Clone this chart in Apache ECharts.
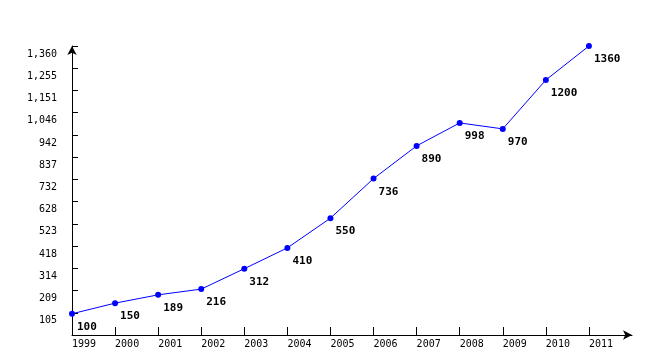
<!DOCTYPE html>
<html><head><meta charset="utf-8">
<script src="https://cdn.jsdelivr.net/npm/echarts@6/dist/echarts.min.js"></script>
<style>html,body{margin:0;padding:0;background:#fff}#c{width:662px;height:360px}</style>
</head><body><div id="c"></div>
<script>
const years = [1999,2000,2001,2002,2003,2004,2005,2006,2007,2008,2009,2010,2011];
const values = [100,150,189,216,312,410,550,736,890,998,970,1200,1360];
const yTickLabels = ['','105','209','314','418','523','628','732','837','942','1,046','1,151','1,255','1,360'];
const yMax = 1360, ySteps = 13;
const chart = echarts.init(document.getElementById('c'));
const font = 'DejaVu Sans Mono';
chart.setOption({
  animation:false,
  grid:{left:72,right:30,top:46,bottom:25,containLabel:false},
  xAxis:{type:'value',min:1999,max:2012,interval:1,
    axisLine:{show:true,lineStyle:{color:'#000',width:1},symbol:['none','arrow'],symbolSize:[7,9]},
    axisTick:{show:true,inside:true,length:8,lineStyle:{color:'#000'},customValues:years},
    axisLabel:{customValues:years,align:'left',margin:4,color:'#000',fontFamily:font,fontSize:10,formatter:v=>String(v)},
    splitLine:{show:false}},
  yAxis:{type:'value',min:0,max:yMax,interval:yMax/ySteps,
    axisLine:{show:true,lineStyle:{color:'#000',width:1},symbol:['none','arrow'],symbolSize:[7,9]},
    axisTick:{show:true,inside:true,length:6,lineStyle:{color:'#000'}},
    axisLabel:{showMinLabel:false,margin:15,color:'#000',fontFamily:font,fontSize:10,verticalAlign:'top',padding:[3,0,0,0],
      formatter:(v)=>yTickLabels[Math.round(v/(yMax/ySteps))]},
    splitLine:{show:false}},
  series:[{type:'line',data:years.map((y,i)=>[y,values[i]]),
    lineStyle:{color:'#0000ff',width:1},itemStyle:{color:'#0000ff'},
    symbol:'circle',symbolSize:6,
    label:{show:true,position:[8,11],align:'left',verticalAlign:'top',color:'#000',fontFamily:font,fontWeight:'bold',fontSize:11,
      formatter:p=>String(p.value[1])}}]
});
</script></body></html>
